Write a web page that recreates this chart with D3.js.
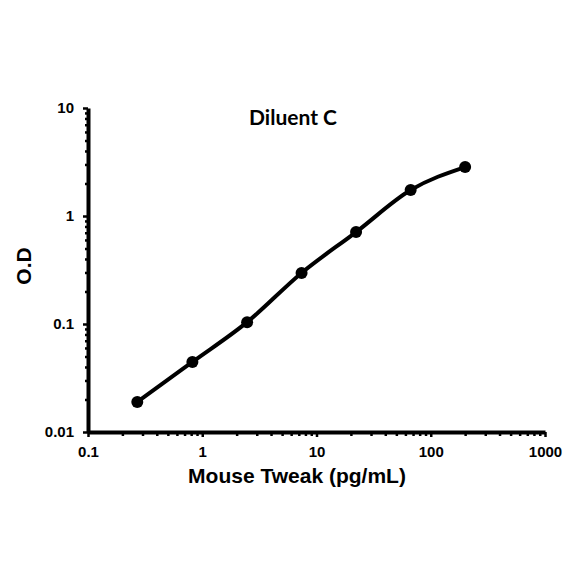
<!DOCTYPE html>
<html>
<head>
<meta charset="utf-8">
<script src="https://cdn.jsdelivr.net/npm/d3@7"></script>
<style>
  body { margin: 0; background: #fff; }
  svg text { font-family: "Liberation Sans", Arial, sans-serif; font-weight: bold; }
</style>
</head>
<body>
<div id="chart"></div>
<script>
// data
var concentration = [0.27, 0.82, 2.47, 7.4, 22.2, 66.7, 200];
var od = [0.019, 0.0445, 0.104, 0.297, 0.71, 1.74, 2.84];
var xTicks = [0.1, 1, 10, 100, 1000];
var yTicks = [0.01, 0.1, 1, 10];

var svgWidth = 584;
var svgHeight = 584;

var svg = d3.select("#chart")
  .append("svg")
  .attr("width", svgWidth)
  .attr("height", svgHeight);

var x = d3.scaleLog().domain([0.1, 1000]).range([88, 545]);
var y = d3.scaleLog().domain([0.01, 10]).range([432, 108]);

// minor ticks for each decade
var xMinor = [];
xTicks.slice(0, -1).forEach(function(t) {
  for (var k = 2; k <= 9; k++) xMinor.push(t * k);
});
var yMinor = [];
yTicks.slice(0, -1).forEach(function(t) {
  for (var k = 2; k <= 9; k++) yMinor.push(t * k);
});

// x axis
var xAxis = svg.append("g")
  .attr("transform", "translate(0,432)")
  .call(d3.axisBottom(x).tickValues(xTicks).tickFormat(d3.format("")).tickSize(5).tickSizeOuter(0));
svg.append("g")
  .attr("transform", "translate(0,432)")
  .call(d3.axisBottom(x).tickValues(xMinor).tickFormat("").tickSize(4).tickSizeOuter(0))
  .select(".domain").remove();

// y axis
var yAxis = svg.append("g")
  .attr("transform", "translate(88,0)")
  .call(d3.axisLeft(y).tickValues(yTicks).tickFormat(d3.format("")).tickSize(5).tickSizeOuter(0));
svg.append("g")
  .attr("transform", "translate(88,0)")
  .call(d3.axisLeft(y).tickValues(yMinor).tickFormat("").tickSize(3).tickSizeOuter(0))
  .select(".domain").remove();

svg.selectAll(".domain").attr("stroke", "#000").attr("stroke-width", 4);
svg.selectAll(".tick line").attr("stroke", "#000").attr("stroke-width", 2.5);

xAxis.selectAll("text")
  .style("font-size", "15px")
  .attr("fill", "#000")
  .attr("y", 14)
  .attr("dy", "0.71em");
yAxis.selectAll("text")
  .style("font-size", "15px")
  .attr("fill", "#000")
  .attr("x", -14);

// curve
var line = d3.line()
  .x(function(d, i) { return x(concentration[i]); })
  .y(function(d) { return y(d); })
  .curve(d3.curveMonotoneX);

svg.append("path")
  .datum(od)
  .attr("d", line)
  .attr("fill", "none")
  .attr("stroke", "#000")
  .attr("stroke-width", 4);

svg.selectAll("circle.pt")
  .data(od)
  .enter()
  .append("circle")
  .attr("class", "pt")
  .attr("cx", function(d, i) { return x(concentration[i]); })
  .attr("cy", function(d) { return y(d); })
  .attr("r", 6)
  .attr("fill", "#000");

// labels
svg.append("text")
  .attr("x", 293)
  .attr("y", 125)
  .attr("text-anchor", "middle")
  .style("font-family", "Lato, 'Open Sans', sans-serif")
  .style("font-size", "21px")
  .text("Diluent C");

svg.append("text")
  .attr("x", 297)
  .attr("y", 483)
  .attr("text-anchor", "middle")
  .style("font-size", "21px")
  .text("Mouse Tweak (pg/mL)");

svg.append("text")
  .attr("transform", "rotate(-90)")
  .attr("x", -266)
  .attr("y", 31)
  .attr("text-anchor", "middle")
  .style("font-size", "21px")
  .text("O.D");
</script>
</body>
</html>
